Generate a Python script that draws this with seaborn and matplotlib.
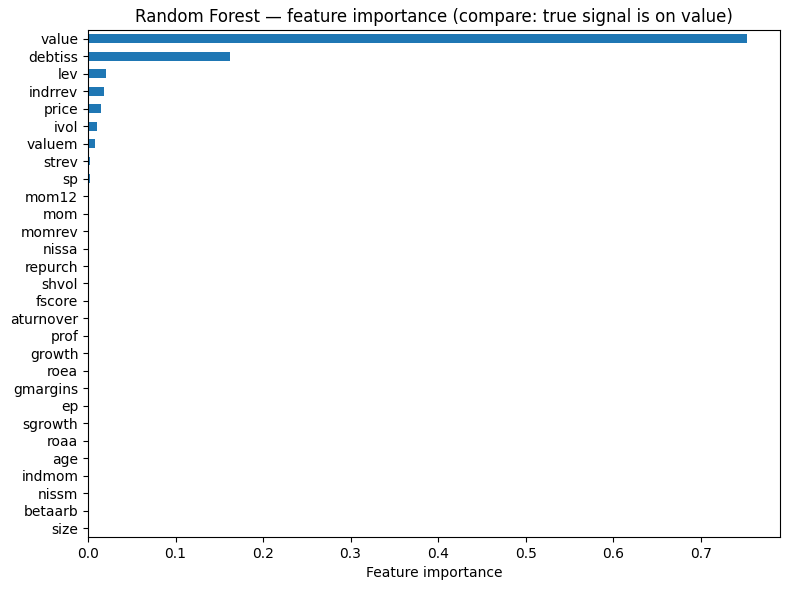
import pandas as pd
import matplotlib.pyplot as plt
import seaborn as sns

# Feature importances (sorted, largest first)
features = ['value', 'debtiss', 'lev', 'indrrev', 'price', 'ivol', 'valuem', 'strev', 'sp',
            'mom12', 'mom', 'momrev', 'nissa', 'repurch', 'shvol', 'fscore', 'aturnover',
            'prof', 'growth', 'roea', 'gmargins', 'ep', 'sgrowth', 'roaa', 'age', 'indmom',
            'nissm', 'betaarb', 'size']
importances = [0.753, 0.162, 0.0205, 0.018, 0.015, 0.0103, 0.008, 0.0022, 0.002,
               0.0004, 0.0003, 0.0003, 0.0002, 0.0002, 0.0002, 0.0001, 0.0001,
               0.0001, 0.0001, 0.0001, 0.0001, 0.0001, 0.0001, 0.0001, 0.0, 0.0,
               0.0, 0.0, 0.0]

df = pd.DataFrame({'feature': features, 'importance': importances})

fig, ax = plt.subplots(figsize=(7.9, 5.9), dpi=100)
sns.barplot(data=df, x='importance', y='feature', orient='h', color='#1f77b4',
            saturation=1, width=0.5, ax=ax)
ax.set_title('Random Forest — feature importance (compare: true signal is on value)')
ax.set_xlabel('Feature importance')
ax.set_ylabel('')
ax.set_xlim(0, max(importances) * 1.05)
fig.subplots_adjust(left=0.1114, right=0.9873, top=0.9492, bottom=0.0898)
plt.savefig('out.png', dpi=100)
